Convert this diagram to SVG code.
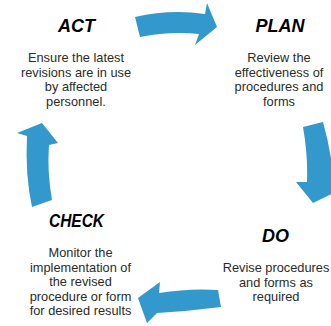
<svg xmlns="http://www.w3.org/2000/svg" width="331" height="326" viewBox="0 0 331 326">
<style>
.title{font-family:"Liberation Sans",Arial,sans-serif;font-size:18px;font-weight:bold;font-style:italic;fill:#000;text-anchor:middle}
.body{font-family:"Liberation Sans",Arial,sans-serif;font-size:12.8px;fill:#2b2b2b;text-anchor:middle}
.arrow{fill:#3399cc;stroke:none}
</style>
<rect width="331" height="326" fill="#fff"/>
<g id="connectors">
<path class="arrow" d="M135,17 Q170,9 205,14 L207,3 L217,27 L195,45 L199,34 Q170,31 140,37 Z"/>
<path class="arrow" d="M303,127 L323,122 Q331,150 334,182 L340,190 L313,203 L296,182 L307,182 Q308,155 303,127 Z"/>
<path class="arrow" d="M218,290 L221,307 Q190,311 157,313 L147,323 L138,298 L160,282 L159,293 Q190,288 218,290 Z"/>
<path class="arrow" d="M32,207 L52,200 Q47,172 49,145 L58,143 L42,123 L17,133 L27,136 Q25,175 32,207 Z"/>
</g>
<g id="act">
<text class="title" x="76.5" y="32.3">ACT</text>
<text class="body" x="76" y="61.7">Ensure the latest</text>
<text class="body" x="76" y="76.5">revisions are in use</text>
<text class="body" x="76" y="91">by affected</text>
<text class="body" x="76" y="105.7">personnel.</text>
</g>
<g id="plan">
<text class="title" x="280" y="32.3">PLAN</text>
<text class="body" x="279" y="61.7">Review the</text>
<text class="body" x="279" y="76.5">effectiveness of</text>
<text class="body" x="279" y="91">procedures and</text>
<text class="body" x="279" y="105.7">forms</text>
</g>
<g id="check">
<text class="title" x="76.5" y="226.7" textLength="55" lengthAdjust="spacingAndGlyphs">CHECK</text>
<text class="body" x="80.5" y="256.7">Monitor the</text>
<text class="body" x="80.5" y="271.5">implementation of</text>
<text class="body" x="80.5" y="286">the revised</text>
<text class="body" x="80.5" y="300.7">procedure or form</text>
<text class="body" x="80.5" y="315.3">for desired results</text>
</g>
<g id="do">
<text class="title" x="275.5" y="241.7">DO</text>
<text class="body" x="276" y="271.7">Revise procedures</text>
<text class="body" x="276" y="286.5">and forms as</text>
<text class="body" x="276" y="301">required</text>
</g>
</svg>
